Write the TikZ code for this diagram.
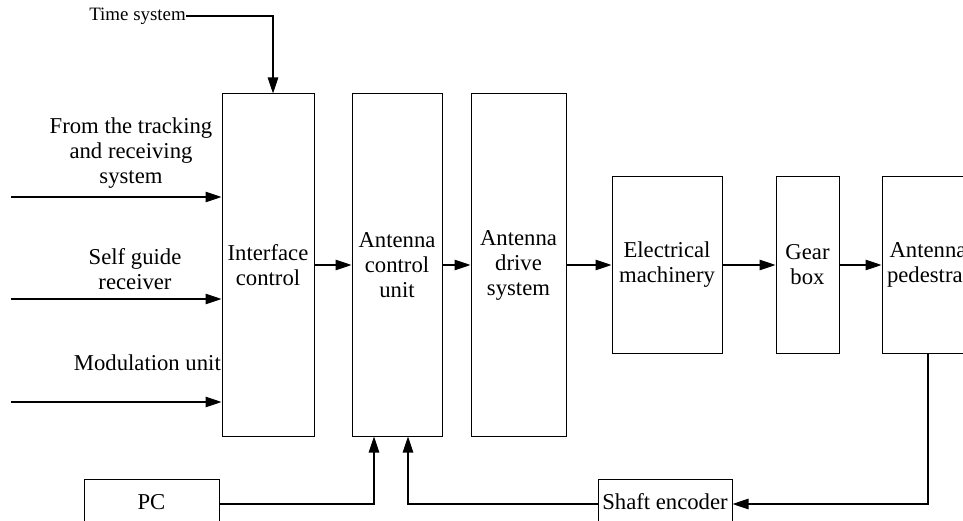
\documentclass[tikz,border=0pt]{standalone}
\usepackage{fontspec}
\setmainfont{Liberation Serif}
\usetikzlibrary{arrows.meta}
\begin{document}
\begin{tikzpicture}[x=1pt,y=-1pt,
  every node/.style={font=\fontsize{22.7}{25}\selectfont},
  blk/.style={draw, line width=1pt, rectangle, inner sep=0pt, align=center},
  conn/.style={line width=1.1pt, -{Triangle[length=16pt,width=10.5pt]}},
  lab/.style={inner sep=0pt, align=center}]
\useasboundingbox (0,0) rectangle (963,521);
\clip (0,0) rectangle (963,521);
\fill[white] (0,0) rectangle (963,521);
% blocks
\node[blk, minimum width=92pt, minimum height=342pt] (ic) at (268,265) {Interface\\control};
\node[blk, minimum width=90pt, minimum height=342pt] (acu) at (397,265) {Antenna\\control\\unit};
\node[blk, minimum width=95pt, minimum height=342pt] (ads) at (518.5,265) {Antenna\\drive\\system};
\node[blk, minimum width=110pt, minimum height=176pt] (em) at (667,265) {Electrical\\machinery};
\node[blk, minimum width=63pt, minimum height=176pt] (gb) at (807.5,265) {Gear\\box};
\node[blk, minimum width=92pt, minimum height=176pt] (ap) at (928,265) {Antenna\\pedestral};
\node[blk, minimum width=135pt, minimum height=46pt] (pc) at (151.5,502) {PC};
\node[blk, minimum width=134pt, minimum height=46pt] (se) at (665,502) {Shaft encoder};
% labels
\node[lab, font=\fontsize{18.9}{21}\selectfont, anchor=east] (ts) at (186,16) {Time system};
\node[lab] (l1) at (131,153) {From the tracking\\and receiving\\system};
\node[lab] (l2) at (135,269) {Self guide\\receiver};
\node[lab, anchor=east] (l3) at (221,363) {Modulation unit};
\coordinate (s1) at (11,197);
\coordinate (s2) at (11,299);
\coordinate (s3) at (11,402);
% connectors
\draw[conn] (ts.east) -| ([xshift=5pt]ic.north);
\draw[conn] (s1) -- (s1 -| ic.west);
\draw[conn] (s2) -- (s2 -| ic.west);
\draw[conn] (s3) -- (s3 -| ic.west);
\draw[conn] (ic.east) -- (acu.west);
\draw[conn] (acu.east) -- (ads.west);
\draw[conn] (ads.east) -- (em.west);
\draw[conn] (em.east) -- (gb.west);
\draw[conn] (gb.east) -- (ap.west);
\draw[conn] ([yshift=-2pt]pc.east) -| ([xshift=-23pt]acu.south);
\draw[conn] ([yshift=-2pt]se.west) -| ([xshift=11pt]acu.south);
\draw[conn] (ap.south) |- ([yshift=-2pt]se.east);
\end{tikzpicture}
\end{document}
